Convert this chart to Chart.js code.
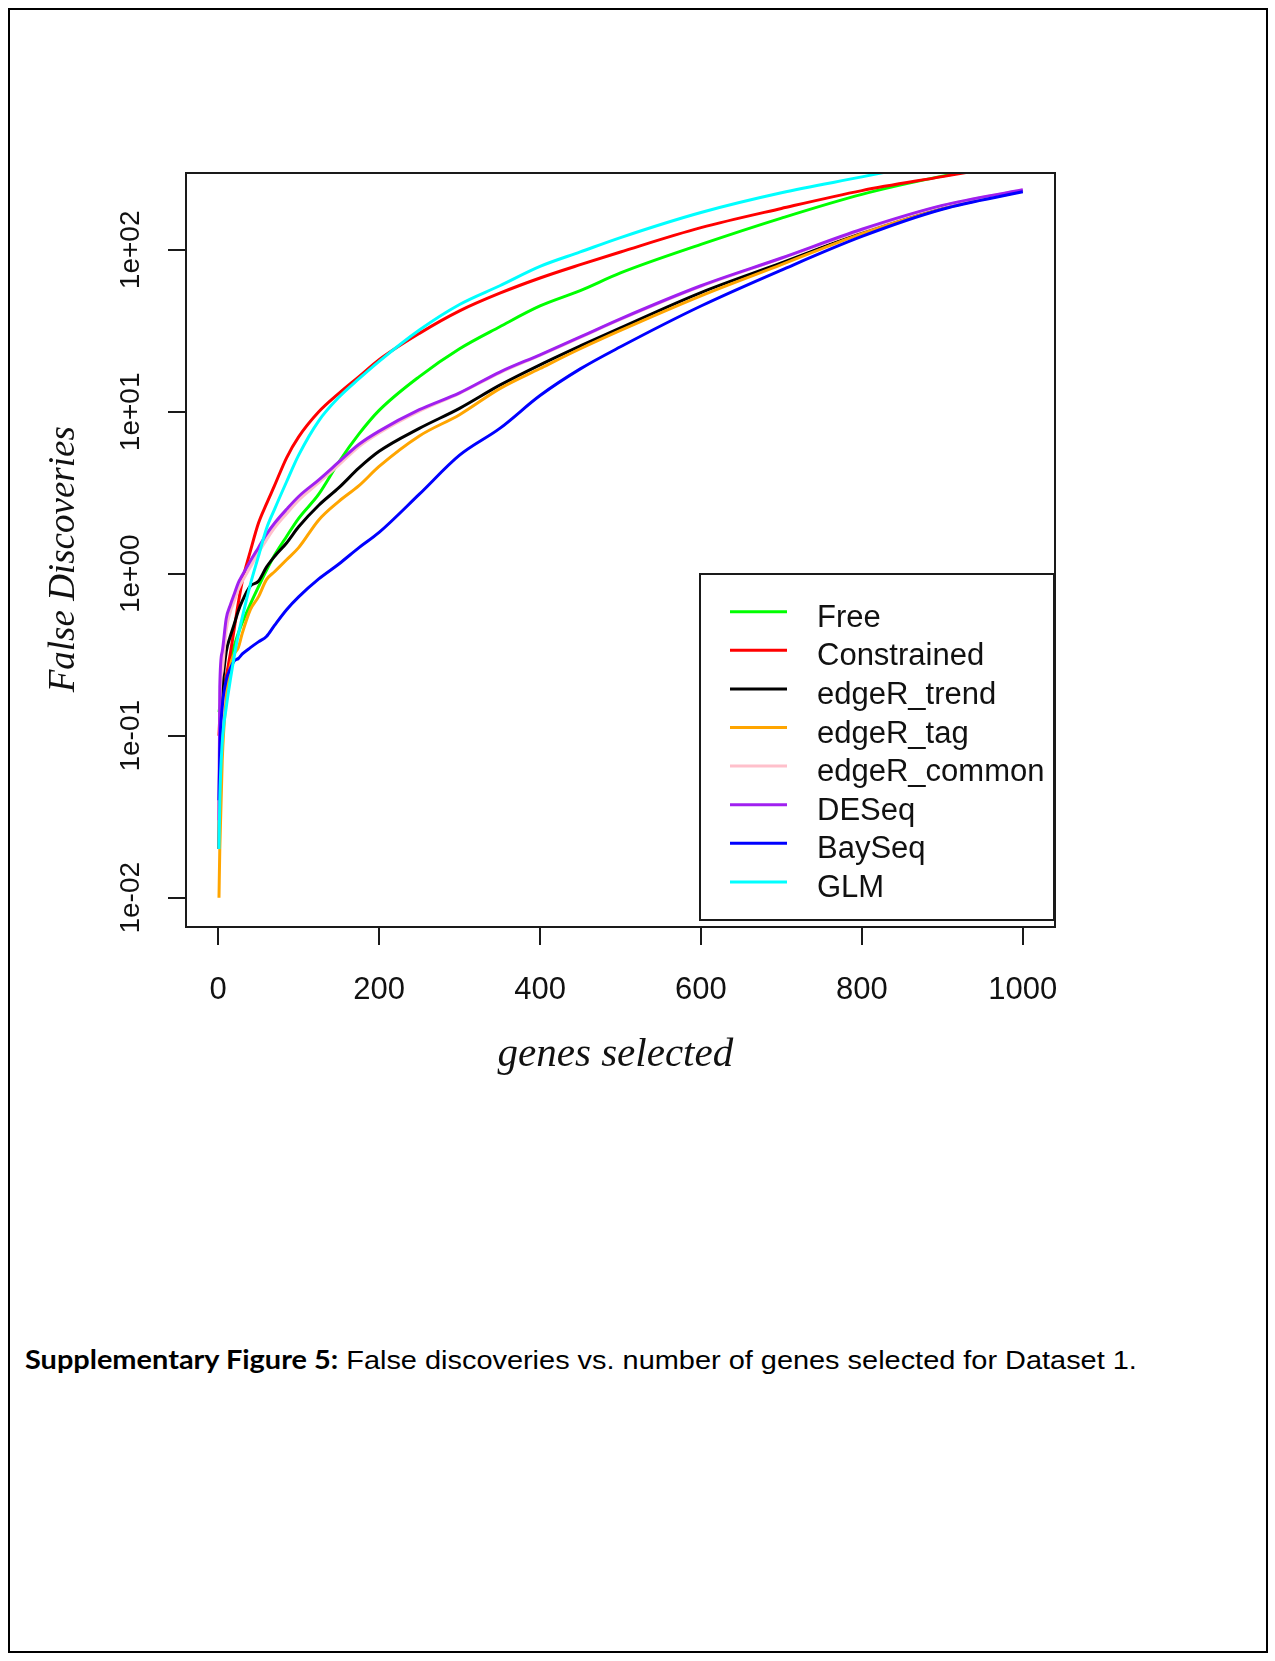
<!DOCTYPE html>
<html>
<head>
<meta charset="utf-8">
<script src="https://cdn.jsdelivr.net/npm/chart.js@4.4.1/dist/chart.umd.min.js"></script>
<style>
  body { margin: 0; background: #fff; }
  #page { position: relative; width: 1275px; height: 1661px; background: #fff; }
  #frame { position: absolute; left: 8px; top: 8px; width: 1260px; height: 1645px; border: 2px solid #000; box-sizing: border-box; }
  #wrap { position: absolute; left: 0; top: 0; width: 1275px; height: 1110px; }
  #caption { position: absolute; left: 25px; top: 1346px; font: 26px/26px "Liberation Sans", Arial, sans-serif; color: #000;
             white-space: nowrap; transform: scaleX(1.112); transform-origin: 0 0; }
  #caption b { font-family: Lato, "Liberation Sans", sans-serif; font-weight: 700; }
</style>
</head>
<body>
<div id="page">
  <div id="frame"></div>
  <div id="wrap"><canvas id="fd" width="1275" height="1110"></canvas></div>
  <div id="caption"><b>Supplementary Figure 5:</b> False discoveries vs. number of genes selected for Dataset 1.</div>
</div>
<script>
const genes = [1, 2, 5, 10, 15, 20, 25, 30, 40, 50, 60, 70, 85, 100, 125, 150, 175, 200, 250, 300, 350, 400, 450, 500, 600, 700, 800, 900, 1000]

// false discoveries per method
const freeFD = [0.14, 0.15, 0.18, 0.23, 0.29, 0.36, 0.43, 0.5, 0.65, 0.83, 1.05, 1.3, 1.7, 2.2, 3.1, 4.9, 7.3, 10.2, 16.5, 24.5, 33.5, 45, 56, 72, 108, 157, 220, 285, 350]
const constrainedFD = [0.1, 0.13, 0.17, 0.23, 0.32, 0.46, 0.66, 0.9, 1.38, 2.05, 2.7, 3.5, 5.2, 7.0, 10.0, 13.0, 16.5, 21, 30.5, 42, 54, 67, 81, 97, 137, 180, 232, 283, 345]
const edgeRTrendFD = [0.02, 0.1, 0.2, 0.33, 0.41, 0.49, 0.59, 0.68, 0.84, 0.9, 1.1, 1.28, 1.55, 1.95, 2.65, 3.4, 4.5, 5.7, 7.9, 10.5, 14.6, 19.5, 25.5, 33, 54.5, 83, 127, 180, 232]
const edgeRTagFD = [0.01, 0.02, 0.07, 0.17, 0.27, 0.32, 0.35, 0.43, 0.6, 0.72, 0.92, 1.03, 1.22, 1.45, 2.15, 2.8, 3.5, 4.6, 7.1, 9.6, 13.9, 18.5, 24.5, 31.8, 52, 81, 126, 179, 231]
const edgeRCommonFD = [0.03, 0.15, 0.25, 0.45, 0.58, 0.68, 0.8, 0.9, 1.1, 1.35, 1.62, 1.92, 2.35, 2.85, 3.65, 4.7, 6.1, 7.4, 10.1, 13, 17.4, 22.3, 28.8, 37.2, 59.5, 88.5, 132, 187, 234]
const deseqFD = [0.03, 0.2, 0.33, 0.53, 0.64, 0.75, 0.88, 0.98, 1.2, 1.45, 1.75, 2.05, 2.5, 3.0, 3.8, 4.9, 6.3, 7.6, 10.3, 13.1, 17.6, 22.5, 29, 37.5, 60, 89, 134, 188, 235]
const baySeqFD = [0.04, 0.08, 0.15, 0.22, 0.26, 0.29, 0.30, 0.32, 0.35, 0.38, 0.41, 0.48, 0.6, 0.72, 0.93, 1.15, 1.45, 1.8, 3.1, 5.4, 7.9, 12.6, 18.4, 25.2, 45, 75, 121, 178, 228]
const glmFD = [0.02, 0.04, 0.09, 0.15, 0.22, 0.31, 0.42, 0.54, 0.86, 1.28, 1.9, 2.5, 3.7, 5.4, 8.8, 12.3, 16, 20.5, 32, 46, 60, 79, 97, 119, 170, 225, 282, 355, 445]

const methods = ['Free', 'Constrained', 'edgeR_trend', 'edgeR_tag', 'edgeR_common', 'DESeq', 'BaySeq', 'GLM']
const seriesFD = [freeFD, constrainedFD, edgeRTrendFD, edgeRTagFD, edgeRCommonFD, deseqFD, baySeqFD, glmFD]
const lineColors = ['#00ff00', '#ff0000', '#000000', '#ffa500', '#ffc0cb', '#a020f0', '#0000ff', '#00ffff']

const xTicks = [0, 200, 400, 600, 800, 1000]
const yTicks = [0.01, 0.1, 1, 10, 100]
const yTickLabels = ['1e-02', '1e-01', '1e+00', '1e+01', '1e+02']

// layout (px)
const plotLeft = 186, plotTop = 173, plotRight = 1055, plotBottom = 927
const padLeft = 42, xAxisH = 153, tickLen = 18
const sans = '"Liberation Sans", Arial, sans-serif'
const serif = '"Liberation Serif", "Times New Roman", serif'

// y labels are rotated, centre them on x = 131
const mctx = document.createElement('canvas').getContext('2d')
mctx.font = '28px ' + sans
const yLabelW = Math.max(...yTickLabels.map(t => mctx.measureText(t).width))
const yLabelPad = plotLeft - tickLen - 131 - yLabelW / 2

const datasets = methods.map((name, i) => ({
    label: name,
    data: genes.map((g, k) => ({x: g, y: seriesFD[i][k]})),
    borderColor: lineColors[i],
    backgroundColor: lineColors[i],
    borderWidth: 3,
    pointRadius: 0,
    cubicInterpolationMode: 'monotone',
    fill: false,
    order: methods.length - 1 - i,   // later methods drawn on top, like R
    clip: 1
}))

// box round the plot + legend in the bottom right corner
const rPlotBits = {
    id: 'rPlotBits',
    afterDraw(chart) {
        const {ctx, chartArea: a} = chart
        ctx.save()
        ctx.strokeStyle = '#1a1a1a'
        ctx.lineWidth = 2
        ctx.strokeRect(a.left, a.top, a.right - a.left, a.bottom - a.top)

        // legend
        const lw = 354, lh = 346
        const lx = a.right - lw - 1, ly = a.bottom - 7 - lh
        ctx.fillStyle = '#fff'
        ctx.fillRect(lx, ly, lw, lh)
        ctx.strokeRect(lx, ly, lw, lh)
        ctx.font = '31px ' + sans
        ctx.textBaseline = 'alphabetic'
        chart.data.datasets.forEach((ds, i) => {
            const y = ly + 37.7 + i * 38.6
            ctx.strokeStyle = ds.borderColor
            ctx.lineWidth = 3
            ctx.beginPath()
            ctx.moveTo(lx + 30, y)
            ctx.lineTo(lx + 87, y)
            ctx.stroke()
            ctx.fillStyle = '#111'
            ctx.fillText(ds.label, lx + 117, y + 15)
        })
        ctx.restore()
    }
}

new Chart(document.getElementById('fd').getContext('2d'), {
    type: 'line',
    data: {datasets: datasets},
    options: {
        responsive: false,
        animation: false,
        layout: {padding: {left: padLeft, top: plotTop, right: 1275 - plotRight, bottom: 1110 - plotBottom - xAxisH}},
        plugins: {legend: {display: false}, tooltip: {enabled: false}},
        scales: {
            x: {
                type: 'linear',
                min: -40,
                max: 1040,
                afterBuildTicks: scale => { scale.ticks = xTicks.map(v => ({value: v})) },
                afterFit: scale => { scale.height = xAxisH },
                grid: {drawOnChartArea: false, drawTicks: true, tickLength: tickLen, color: '#1a1a1a', lineWidth: 2},
                border: {display: false},
                ticks: {font: {family: sans, size: 31}, color: '#111', padding: 27, maxRotation: 0, autoSkip: false,
                        callback: v => String(v)},
                title: {display: true, text: 'genes selected ', color: '#111', padding: 0,
                        font: {family: serif, style: 'italic', size: 41}}
            },
            y: {
                type: 'logarithmic',
                min: 0.0066,
                max: 298,
                afterBuildTicks: scale => { scale.ticks = yTicks.map(v => ({value: v})) },
                afterFit: scale => { scale.width = plotLeft - padLeft },
                grid: {drawOnChartArea: false, drawTicks: true, tickLength: tickLen, color: '#1a1a1a', lineWidth: 2},
                border: {display: false},
                ticks: {font: {family: sans, size: 28}, color: '#111', padding: yLabelPad, minRotation: 90, maxRotation: 90,
                        crossAlign: 'center', autoSkip: false,
                        callback: (v, i) => yTickLabels[i]},
                title: {display: true, text: 'False Discoveries\u2002', color: '#111', padding: 0,
                        font: {family: serif, style: 'italic', size: 37}}
            }
        }
    },
    plugins: [rPlotBits]
})
</script>
</body>
</html>
